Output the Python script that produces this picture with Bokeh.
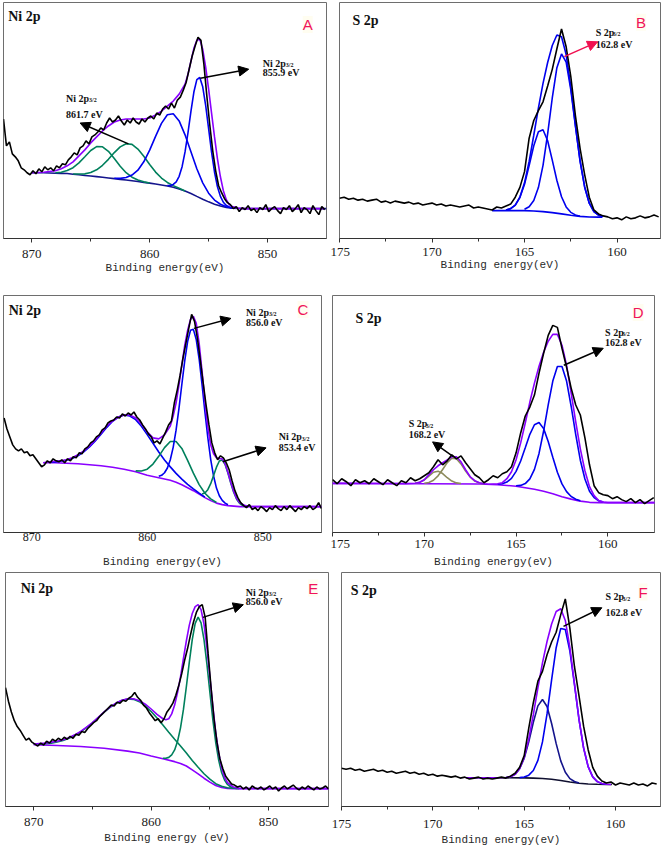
import numpy as np
from bokeh.plotting import figure
from bokeh.models import Range1d, FixedTicker, Label, Arrow, NormalHead
from bokeh.layouts import column, row
from bokeh.embed import file_html
from bokeh.resources import INLINE

# ---------------- data (binding energy in eV, intensity in a.u.) ----------------
# Panel A : Ni 2p
a_exp_start, a_exp_step = 872.4, 0.25
a_exp = [120, 93, 97, 85, 82, 78, 71, 69, 66,
         64, 68, 65, 70, 67, 72, 69, 71, 68, 73, 71, 75, 74,
         79, 82, 86, 84, 91, 93, 98, 95, 102, 104, 107, 111, 109,
         116, 121, 117, 119, 123, 118, 114, 119, 116, 121, 117, 115, 120,
         117, 121, 123, 120, 126, 124, 130, 133, 130, 136, 131, 139, 142,
         149, 157, 170, 183, 193, 202, 199, 175, 143, 114, 88, 68, 53,
         46, 40, 36, 34, 30, 32, 27, 31, 29, 33, 28, 30, 26,
         31, 29, 34, 27, 30, 32, 28, 25, 31, 29, 33, 27, 30,
         34, 26, 31, 29, 25, 33, 28, 24, 32, 29]
a_bg = [66, 66, 66, 65.8, 65.6, 65.4, 65.2, 64.6, 64, 63.3, 62.7, 62.1, 61.5, 60.8, 60.1,
        59.4, 58.7, 58, 57.2, 56.4, 55.6, 54.7, 53.8, 52.8, 51.5, 49.8, 47.6, 45.2, 42.3,
        39.5, 36.8, 34.5, 32.6, 31.2, 30.4, 30.1, 30, 30, 30, 30, 30, 30, 30, 30, 30, 30,
        30, 30, 30, 30, 30]                      # 870 .. 845, step 0.5
a_green1 = [66.0, 66.6, 68.2, 71.1, 75.9, 82.1, 88.4, 92.3, 92.1, 87.6, 80.3, 72.6, 66.1,
            61.6, 58.7, 56.9, 55.8]              # 868 .. 860, step 0.5
a_green2 = [64.8, 64.7, 64.9, 66.2, 69, 73.5, 79.5, 86.3, 92, 95.2, 94.5, 89.8, 82.6, 74.3,
            66.7, 60.7, 56.3, 53.1, 50.5, 47.8]  # 866.5 .. 857, step 0.5
a_blue1 = [60.5, 60.4, 61.2, 63.7, 68.6, 77, 88.8, 102.6, 115.6, 124.2, 125.3, 118.1, 104.1,
           87.1, 70.1, 55.9, 45.5, 38.6, 34.4, 31.9, 30.6]  # 863 .. 853, step 0.5
a_blue2 = [53.2, 53.3, 54.3, 56.9, 62.5, 72.1, 86.9, 106.2, 127.7, 147.1, 159.6, 161.7, 152.3,
           133.7, 110.2, 86.8, 66.8, 52, 42.3, 36.4, 33.1, 31.6, 30.7]  # 858.5 .. 853, step 0.25
a_env_e = [870, 869, 868, 867.5, 867, 866.5, 866, 865.5, 865, 864.5, 864, 863.5, 863, 862.5,
           862, 861.5, 861, 860.5, 860, 859.5, 859, 858.5, 858, 857.5, 857, 856.75, 856.5,
           856.25, 856, 855.75, 855.5, 855.25, 855, 854.75, 854.5, 854.25, 854, 853.75, 853.5,
           853.25, 853, 852.5, 852, 845.2]
a_env = [66, 66.5, 68, 70, 73, 77, 83, 89, 96, 102, 108, 113, 117, 119, 120, 120, 120, 120,
         121, 124, 128, 133, 138, 145, 155, 165, 178, 191, 199, 200, 190, 172, 150, 126, 102,
         80, 62, 48, 39, 34, 32, 30.5, 30, 30]

# Panel B : S 2p
b_exp_start, b_exp_step = 175.0, 0.25
b_exp = [41, 42, 40, 41, 39, 40, 38, 39, 40, 37, 38, 36, 38, 37, 36, 37, 35, 36, 34, 35, 36,
         34, 35, 33, 34, 33, 32, 33, 34, 31, 32, 31, 30, 29,
         32, 31, 33, 35, 42, 52, 68, 102, 120, 130, 139, 155, 172, 193, 213, 195, 165, 125,
         92, 65, 42, 29, 25, 23, 22, 20, 21, 19, 22, 20, 21, 23, 21, 22, 24, 22]
b_bg_e = [166.75, 165, 164.5, 164, 163.5, 163, 162.5, 162, 161.5, 161, 160.8]
b_bg = [28.3, 28.3, 28, 27.3, 26.3, 25, 23.7, 22.5, 21.8, 21.7, 21.7]
b_left = [28.9, 30.3, 33.9, 41.7, 55.2, 74.2, 94.3, 108.5, 110.6, 99.4, 79.7, 59, 42.5, 32.1,
          26.6, 24, 22.7]                        # 166 .. 162, step 0.25
b_right = [29.7, 32.3, 38.7, 51.8, 74.4, 106.4, 142.9, 173.7, 187.7, 179.3, 151.5, 114.5,
           79.1, 52.4, 35.9, 27.4, 23.7, 22.3]   # 165 .. 160.75
b_env = [28.9, 30.4, 34, 42.1, 56.6, 78.3, 105, 132.6, 157.7, 179, 196.3, 207, 205.2, 187.1,
         154.4, 115.4, 79.3, 52.4, 35.9, 27.4, 23.7, 22.3]  # 166 .. 160.75

# Panel C : Ni 2p
c_exp_start, c_exp_step = 872.4, 0.25
c_exp = [115, 104, 96, 88, 84, 82, 84, 80, 81, 77, 78, 74, 70, 66, 68, 72, 70, 74, 72, 71,
         73, 70, 74, 72, 76, 75, 80, 79, 84, 86, 90, 92, 96, 98, 103, 105, 110, 112, 113, 116,
         115, 119, 117, 120, 118, 121, 116, 113, 108, 104, 99, 96, 90, 92, 89, 95, 101, 108,
         112, 130, 143, 158, 175, 190, 205, 219, 212, 195, 173, 150, 128, 108, 90, 80, 73, 77,
         75, 70, 63, 52, 42, 35, 30, 27, 25, 28, 23, 25, 22, 26, 24, 21, 25, 23, 27, 24, 22,
         26, 23, 27, 24, 21, 25, 23, 26, 24, 27, 23, 25, 30, 24]
c_bg_e = [869, 868, 867, 866, 865, 864, 863, 862, 861, 860, 859, 858, 857.5, 857, 856.5, 856,
          855.5, 855, 854.5, 854, 853.5, 853, 852.5, 852, 844.9]
c_bg = [70, 70, 69.5, 69, 68, 67, 65.5, 63.5, 61, 57.5, 55, 52.5, 50.5, 48, 45, 42, 38.5, 35,
        32, 29.5, 28, 27, 26.5, 26, 26]
c_blue_sat = [70.5, 70.9, 71.5, 72.5, 74.3, 77.1, 80.9, 85.9, 92, 98.8, 105.6, 111.7, 116,
              118, 117, 113.3, 106.6, 98.3, 89.6, 80.9, 72.9, 65.9, 59.4, 53.6, 48.4, 43.9,
              39.5, 35.5]                        # 868.5 .. 855, step 0.5
c_green1 = [61.9, 61.8, 63.6, 68.7, 76.5, 85.2, 91.4, 91.4, 84.4, 72.5, 59.6, 48.1, 39.4,
            33.7, 30.1]                          # 861 .. 854, step 0.5
c_blue_main = [56.4, 57.4, 60, 64.8, 73.1, 85.5, 102.8, 124.4, 148.6, 172.3, 191.7, 203.1,
               204, 193.8, 174.2, 148.7, 121.2, 95.4, 73.5, 56.7, 44.6, 36.9, 32.2, 29.5,
               27.9]                             # 859 .. 853, step 0.25
c_green2 = [38.7, 39.6, 43, 49, 57.2, 65.6, 71.8, 72.9, 68.3, 59.5, 49.2, 40.2, 33.4, 29.3,
            27.4, 26.5]                          # 855.25 .. 851.5, step 0.25
c_env_e = [869, 868.5, 868, 867.5, 867, 866.5, 866, 865.5, 865, 864.5, 864, 863.5, 863, 862.5,
           862, 861.5, 861, 860.5, 860, 859.5, 859, 858.5, 858, 857.75, 857.5, 857.25, 857,
           856.75, 856.5, 856.25, 856, 855.75, 855.5, 855.25, 855, 854.75, 854.5, 854.25, 854,
           853.75, 853.5, 853.25, 853, 852.75, 852.5, 852.25, 852, 851.5, 851, 844.9]
c_env = [70, 71, 71.5, 72, 73, 75, 78, 82, 87, 93, 100, 107, 112, 116, 118, 118, 115, 109, 101,
         95, 94, 98, 107, 117, 130, 148, 168, 188, 203, 214, 217, 210, 190, 162, 132, 106, 88,
         79, 75, 74, 74, 69, 60, 50, 41, 34, 30, 27, 26, 26]

# Panel D : S 2p
d_exp_start, d_exp_step = 175.0, 0.25
d_exp = [53, 49, 54, 51, 47, 53, 50, 52, 49, 54, 51, 48, 53, 50, 47, 52, 50, 55, 52, 54,
         57, 60, 66, 73, 68, 72, 78, 74, 77, 70, 64, 58, 55, 50, 53, 57, 55, 59, 61, 66,
         80, 100, 117, 126, 138, 160, 180, 198, 208, 206, 185, 166, 145, 128, 118, 95, 68, 47,
         40, 38, 37, 34, 36, 33, 31, 34, 30, 33, 29, 32, 35]
d_bg_e = [175, 170, 167, 166, 165, 164.5, 164, 163.5, 163, 162.5, 162, 161.5, 161, 160.5, 157.4]
d_bg = [49.3, 49, 48.7, 48, 46.5, 45, 43.5, 41.5, 39, 36, 33.5, 31.5, 30.3, 30, 30]
d_olive1 = [49.4, 50.4, 52.8, 56.7, 60.5, 61.6, 59.2, 55, 51.6, 49.8, 49.2]   # 170.5 .. 168
d_olive2 = [49.4, 50.3, 52.5, 56.9, 63.3, 70.2, 74.6, 74, 68.9, 61.8, 55.6, 51.7, 49.7, 48.8]  # 170 ..
d_blue1 = [48.4, 48.9, 50.6, 54.4, 61.4, 71.8, 85, 98.6, 108.2, 110.4, 104.3, 91.3, 75.5,
           60.5, 48.8, 41, 36.2, 33.5, 31.8]     # 166 .. 161.5
d_blue2 = [47, 47.3, 49.1, 53.9, 63.4, 79.4, 101.9, 128.1, 152.1, 166.7, 166.7, 152.1, 126.8,
           98.2, 72.6, 53.7, 41.5, 35, 31.9, 30.6]  # 165 .. 160.25
d_env_e = [175, 172, 171, 170.5, 170.25, 170, 169.75, 169.5, 169.25, 169, 168.75, 168.5, 168.25,
           168, 167.75, 167.5, 167.25, 167, 166.75, 166.5, 166, 165.75, 165.5, 165.25, 165,
           164.75, 164.5, 164.25, 164, 163.75, 163.5, 163.25, 163, 162.75, 162.5, 162.25, 162,
           161.75, 161.5, 161.25, 161, 160.75, 160.5, 160.25, 160, 157.4]
d_env = [49.3, 49.2, 49.1, 49.5, 50.5, 53, 58, 63, 67, 70, 73, 76, 76, 71, 63, 56, 52, 50, 49,
         48.5, 49, 50, 54, 61, 73, 90, 110, 131, 150, 167, 181, 192, 199, 199, 188, 168, 140,
         111, 84, 62, 46, 37, 32, 30.5, 30, 30]

# Panel E : Ni 2p
e_exp_start, e_exp_step = 872.4, 0.25
e_exp = [122, 108, 97, 88, 82, 78, 73, 68, 70, 66, 64, 62, 65, 63, 67, 65, 69, 67, 70, 68,
         71, 69, 72, 70, 74, 73, 77, 76, 80, 83, 86, 88, 92, 95, 98, 101, 104, 103, 107, 106,
         109, 108, 111, 113, 117, 112, 109, 104, 101, 96, 92, 88, 90, 86, 90, 97, 101, 106,
         114, 124, 136, 150, 162, 176, 189, 199, 205, 207, 194, 157, 122, 90, 66, 49, 39, 31,
         27, 23, 22, 20, 21, 18, 20, 17, 21, 19, 18, 20, 17, 19, 21, 18, 20, 16, 19, 21, 18,
         20, 22, 19, 17, 20, 18, 21, 19, 17, 20, 18, 19, 21, 18]
e_bg_e = [870, 868, 866, 864, 862, 861, 860, 859, 858, 857.5, 857, 856.5, 856, 855.5, 855,
          854.5, 854, 853.5, 853, 844.9]
e_bg = [63.3, 62.5, 61.5, 59.8, 56.8, 54.8, 51.8, 49, 46, 44.2, 41.5, 37.5, 33.5, 29, 25,
        21.5, 19.5, 18.6, 18.3, 18.3]
e_green_sat = [63.8, 64, 64.3, 65, 66.1, 67.6, 69.9, 72.7, 76.5, 80.9, 85.8, 91.2, 96.7, 101.6,
               105.7, 108.8, 110.2, 109.9, 107.5, 103.1, 97.4, 90.7, 83.5, 76.1, 68.9, 62,
               54.8, 47.2, 40.3, 33.6, 28, 23.4, 20.7, 19.3, 18.7, 18.5]  # 870 .. 852.5, 0.5
e_green_main = [49.5, 49.5, 50.4, 53, 58, 66.9, 80.7, 99.6, 123.1, 148, 171.1, 187.8, 194.2,
                188.3, 171.1, 146, 117.2, 89.4, 65.5, 47.5, 34.9, 27.1, 22.6, 20.2, 19.1,
                18.5, 18.4]                      # 859 .. 852.5, step 0.25
e_env_e = [870, 869.5, 869, 868.5, 868, 867.5, 867, 866.5, 866, 865.5, 865, 864.5, 864, 863.5,
           863, 862.5, 862, 861.5, 861, 860.5, 860, 859.5, 859, 858.75, 858.5, 858.25, 858,
           857.75, 857.5, 857.25, 857, 856.75, 856.5, 856.25, 856, 855.75, 855.5, 855.25, 855,
           854.75, 854.5, 854.25, 854, 853.75, 853.5, 853, 852.5, 844.9]
e_env = [64, 64.5, 65, 66, 67, 68.5, 70.5, 73.5, 77, 81.5, 86, 91.5, 97, 102, 106, 109, 110.5,
         110.5, 108.5, 105, 100, 94.5, 90, 89, 90, 95, 104, 117, 133, 152, 170, 186, 198, 205,
         207, 202, 187, 163, 133, 103, 76, 55, 40, 30, 24.5, 20, 18.5, 18.3]

# Panel F : S 2p
f_exp_start, f_exp_step = 175.0, 0.25
f_exp = [39, 38, 39, 37, 38, 36, 37, 38, 36, 37, 35, 36, 34, 35, 36, 34, 35, 33, 34, 32, 33,
         31, 32, 31, 30, 31, 29, 30, 28, 29, 30, 28, 29, 28,
         29, 30, 29, 31, 34, 40, 52, 80, 106, 128, 138, 155, 168, 178, 196, 212, 182, 143, 113,
         82, 58, 40, 31, 26, 24, 25, 22, 24, 23, 22, 24, 22, 23, 21, 24, 23]
f_bg_e = [168.2, 166, 165, 164.5, 164, 163.5, 163, 162.5, 162, 161.5, 161, 160.5, 160.2]
f_bg = [29.3, 29.3, 29.2, 29, 28.6, 27.8, 26.5, 25, 23.8, 23, 22.7, 22.5, 22.5]
f_left = [29.6, 30.4, 32.8, 38.5, 49.3, 66.1, 86, 102.8, 109.3, 102.2, 84.8, 64.2, 46.6, 35,
          28.5, 25.5, 24.1]                      # 166 .. 162
f_right = [29.5, 30.1, 32, 36.8, 47.1, 66, 94.5, 129.4, 162.2, 181.9, 180.8, 158.8, 124.6,
           88.8, 59.9, 40.7, 30.3, 25.4, 23.5, 22.7]  # 165.25 .. 160.5
f_env_e = [168.2, 167, 166, 165.75, 165.5, 165.25, 165, 164.75, 164.5, 164.25, 164, 163.75,
           163.5, 163.25, 163, 162.75, 162.5, 162.25, 162, 161.75, 161.5, 161.25, 161, 160.75,
           160.5, 160.25]
f_env = [29.3, 29.3, 29.6, 30.4, 32.8, 38.7, 50.2, 69, 93.8, 121.1, 146.7, 168.5, 186.4, 199.2,
         202, 190, 162.3, 125.7, 89.1, 59.9, 40.7, 30.3, 25.4, 23.5, 22.7, 22.5]

ni_ticks, ni_minor = [850, 860, 870], [855, 865]
s_ticks, s_minor = [160, 165, 170, 175], [162.5, 167.5, 172.5]

# ---------------- styling ----------------
BLACK = "#000000"
PURPLE = "#8a00ff"
BLUE = "#0000ee"
NAVY = "#14148c"
GREEN = "#00805c"
OLIVE = "#8c8a5c"
PINK = "#f0145a"
SERIF = "Liberation Serif"


def grid(start, step, n):
    return start - step * np.arange(n)


def panel(xr, yr, width, height, bl, br, bt, bb, ticks, minor, tick_out, lab_stand,
          ax_stand, ax_label, lab_size="13px"):
    p = figure(width=width, height=height, x_range=Range1d(*xr), y_range=Range1d(*yr),
               output_backend="svg", toolbar_location=None, y_axis_location=None,
               min_border_left=bl, min_border_right=br, min_border_top=bt,
               min_border_bottom=bb)
    p.xgrid.visible = False
    p.ygrid.visible = False
    p.outline_line_color = "#6e6e6e"
    p.outline_line_width = 1
    p.background_fill_color = "white"
    p.border_fill_color = "white"
    ax = p.xaxis[0]
    ax.ticker = FixedTicker(ticks=ticks, minor_ticks=minor)
    ax.axis_line_color = "#333333"
    ax.axis_line_width = 1.2
    ax.major_tick_line_color = "#333333"
    ax.minor_tick_line_color = "#333333"
    ax.major_tick_out = tick_out
    ax.major_tick_in = 0
    ax.minor_tick_out = max(tick_out - 1, 0)
    ax.minor_tick_in = 0
    ax.major_label_standoff = lab_stand
    ax.major_label_text_font = SERIF
    ax.major_label_text_font_size = lab_size
    ax.major_label_text_color = "#1a1a1a"
    ax.axis_label = ax_label
    ax.axis_label_standoff = ax_stand
    ax.axis_label_text_font = "Liberation Mono"
    ax.axis_label_text_font_size = "11px"
    ax.axis_label_text_font_style = "normal"
    ax.axis_label_text_color = "#2a2a2a"
    return p


def title(p, x, y, text):
    p.add_layout(Label(x=x, y=y, text=text, text_font=SERIF, text_font_style="bold",
                       text_font_size="14px", text_baseline="middle", text_color="#111111"))


def letter(p, x, y, text):
    p.add_layout(Label(x=x, y=y, text=text, text_font="Liberation Sans",
                       text_font_size="15px", text_align="center", text_baseline="middle",
                       text_color=PINK, background_fill_color="#fffbe6",
                       background_fill_alpha=0.6))


def peak_label(p, x, y1, y2, name, energy, sub_offset):
    p.add_layout(Label(x=x, y=y1, text=name, text_font=SERIF, text_font_style="bold",
                       text_font_size="10px", text_baseline="middle", text_color="#111111"))
    p.add_layout(Label(x=x, y=y1, x_offset=sub_offset, y_offset=-2, text="3/2",
                       text_font=SERIF, text_font_style="bold", text_font_size="6px",
                       text_baseline="middle", text_color="#111111"))
    p.add_layout(Label(x=x, y=y2, text=energy, text_font=SERIF, text_font_style="bold",
                       text_font_size="10px", text_baseline="middle", text_color="#111111"))


def arrow(p, x0, y0, x1, y1, color=BLACK):
    p.add_layout(Arrow(end=NormalHead(size=10, fill_color=color, line_color=color),
                       x_start=x0, y_start=y0, x_end=x1, y_end=y1, line_color=color,
                       line_width=1.5))


LW = 1.6
NI_LABEL = "Binding energy(eV)"

# ---- A ----
pA = panel((872.4, 845.0), (0, 237), 330, 290, 3, 4, 1, 52, ni_ticks, ni_minor, 4, 7, 1,
           NI_LABEL)
pA.line(grid(870, 0.5, len(a_bg)), a_bg, color=NAVY, line_width=LW)
pA.line(grid(868, 0.5, len(a_green1)), a_green1, color=GREEN, line_width=LW)
pA.line(grid(866.5, 0.5, len(a_green2)), a_green2, color=GREEN, line_width=LW)
pA.line(grid(863, 0.5, len(a_blue1)), a_blue1, color=BLUE, line_width=LW)
pA.line(grid(858.5, 0.25, len(a_blue2)), a_blue2, color=BLUE, line_width=LW)
pA.line(a_env_e, a_env, color=PURPLE, line_width=LW)
pA.line(grid(a_exp_start, a_exp_step, len(a_exp)), a_exp, color=BLACK, line_width=LW)
title(pA, 872.0, 223, "Ni 2p")
letter(pA, 846.6, 215, "A")
peak_label(pA, 850.4, 176, 167, "Ni 2p", "855.9 eV", 23)
arrow(pA, 855.7, 161, 851.6, 170)
peak_label(pA, 867.1, 141, 125, "Ni 2p", "861.7 eV", 23)
arrow(pA, 861.8, 95, 865.9, 116)

# ---- B ----
pB = panel((175.0, 157.65), (0, 240), 332, 290, 9, 2, 2, 48, s_ticks, s_minor, 4, 5, 0,
           NI_LABEL)
pB.line(b_bg_e, b_bg, color=BLUE, line_width=LW)
pB.line(grid(166, 0.25, len(b_left)), b_left, color=BLUE, line_width=LW)
pB.line(grid(165, 0.25, len(b_right)), b_right, color=BLUE, line_width=LW)
pB.line(grid(166, 0.25, len(b_env)), b_env, color=BLUE, line_width=LW)
pB.line(grid(b_exp_start, b_exp_step, len(b_exp)), b_exp, color=BLACK, line_width=LW)
title(pB, 174.3, 222, "S 2p")
letter(pB, 158.7, 220, "B")
peak_label(pB, 161.15, 210, 197, "S 2p", "162.8 eV", 17)
arrow(pB, 162.85, 185, 161.05, 200, color="#f01050")

# ---- C ----
pC = panel((872.45, 844.9), (0, 238), 330, 280, 3, 9, 5, 37, ni_ticks, ni_minor, 0, 0, 12,
           NI_LABEL, lab_size="12px")
pC.line(c_bg_e, c_bg, color=PURPLE, line_width=LW)
pC.line(grid(868.5, 0.5, len(c_blue_sat)), c_blue_sat, color=BLUE, line_width=LW)
pC.line(grid(861, 0.5, len(c_green1)), c_green1, color=GREEN, line_width=LW)
pC.line(grid(859, 0.25, len(c_blue_main)), c_blue_main, color=BLUE, line_width=LW)
pC.line(grid(855.25, 0.25, len(c_green2)), c_green2, color=GREEN, line_width=LW)
pC.line(c_env_e, c_env, color=PURPLE, line_width=LW)
pC.line(grid(c_exp_start, c_exp_step, len(c_exp)), c_exp, color=BLACK, line_width=LW)
title(pC, 872.0, 223, "Ni 2p")
letter(pC, 846.5, 224, "C")
peak_label(pC, 851.45, 221, 211, "Ni 2p", "856.0 eV", 23)
arrow(pC, 855.95, 205, 852.75, 215)
peak_label(pC, 848.6, 96, 85, "Ni 2p", "853.4 eV", 23)
arrow(pC, 853.45, 71, 849.7, 85)

# ---- D ----
pD = panel((175.0, 157.46), (0, 238), 332, 280, 2, 8, 5, 37, s_ticks, s_minor, 4, 3, 5,
           NI_LABEL)
pD.line(d_bg_e, d_bg, color=PURPLE, line_width=LW)
pD.line(grid(170.5, 0.25, len(d_olive1)), d_olive1, color=OLIVE, line_width=LW)
pD.line(grid(170, 0.25, len(d_olive2)), d_olive2, color=OLIVE, line_width=LW)
pD.line(grid(166, 0.25, len(d_blue1)), d_blue1, color=BLUE, line_width=LW)
pD.line(grid(165, 0.25, len(d_blue2)), d_blue2, color=BLUE, line_width=LW)
pD.line(d_env_e, d_env, color=PURPLE, line_width=LW)
pD.line(grid(d_exp_start, d_exp_step, len(d_exp)), d_exp, color=BLACK, line_width=LW)
title(pD, 173.75, 215, "S 2p")
letter(pD, 158.35, 221, "D")
peak_label(pD, 160.15, 201, 191, "S 2p", "162.8 eV", 17)
arrow(pD, 162.4, 168, 160.25, 185)
peak_label(pD, 170.85, 109, 98, "S 2p", "168.2 eV", 17)
arrow(pD, 168.4, 76, 169.55, 91)

# ---- E ----
pE = panel((872.4, 844.9), (0, 240), 330, 278, 5, 2, 2, 36, ni_ticks, ni_minor, 4, 7, 3,
           "Binding energy (eV)")
pE.line(e_bg_e, e_bg, color=PURPLE, line_width=LW)
pE.line(grid(870, 0.5, len(e_green_sat)), e_green_sat, color=GREEN, line_width=LW)
pE.line(grid(859, 0.25, len(e_green_main)), e_green_main, color=GREEN, line_width=LW)
pE.line(e_env_e, e_env, color=PURPLE, line_width=LW)
pE.line(grid(e_exp_start, e_exp_step, len(e_exp)), e_exp, color=BLACK, line_width=LW)
title(pE, 871.1, 224, "Ni 2p")
letter(pE, 846.2, 224, "E")
peak_label(pE, 851.95, 220, 210, "Ni 2p", "856.0 eV", 23)
arrow(pE, 855.6, 194, 852.15, 207)

# ---- F ----
pF = panel((175.0, 157.54), (0, 239), 332, 278, 11, 2, 2, 37, s_ticks, s_minor, 4, 9, 3,
           NI_LABEL)
pF.line(f_bg_e, f_bg, color="#101030", line_width=LW)
pF.line(grid(166, 0.25, len(f_left)), f_left, color=NAVY, line_width=LW)
pF.line(grid(165.25, 0.25, len(f_right)), f_right, color=BLUE, line_width=LW)
pF.line(f_env_e, f_env, color=PURPLE, line_width=LW)
pF.line(grid(f_exp_start, f_exp_step, len(f_exp)), f_exp, color=BLACK, line_width=LW)
title(pF, 174.5, 221, "S 2p")
letter(pF, 158.5, 219, "F")
peak_label(pF, 160.55, 214, 198, "S 2p", "162.8 eV", 17)
arrow(pF, 162.85, 184, 160.75, 203)

layout = column(row(pA, pB, spacing=0), row(pC, pD, spacing=0), row(pE, pF, spacing=0),
                spacing=0)
open("out.html", "w").write(file_html(layout, INLINE))
